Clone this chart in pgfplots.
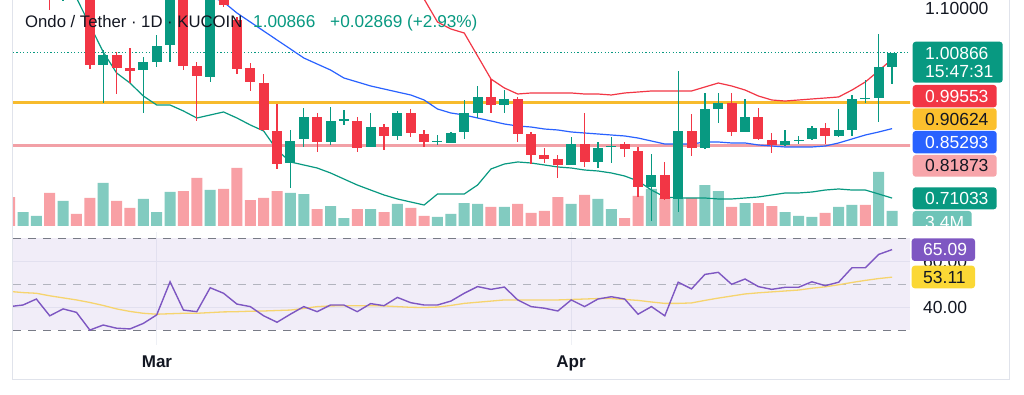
\documentclass[border=0pt]{standalone}
\usepackage{fontspec}
\setmainfont{Liberation Sans}
\usepackage{pgfplots}
\pgfplotsset{compat=1.18}
\usepgfplotslibrary{fillbetween}
\usepackage{pgfplotstable}

\definecolor{upc}{RGB}{8,153,129}
\definecolor{dnc}{RGB}{242,54,69}
\definecolor{volup}{RGB}{130,203,192}
\definecolor{voldn}{RGB}{248,160,165}
\definecolor{bbblue}{RGB}{33,150,243}
\definecolor{bbup}{RGB}{242,54,69}
\definecolor{bbmid}{RGB}{41,98,255}
\definecolor{bblo}{RGB}{8,153,129}
\definecolor{yline}{RGB}{247,187,45}
\definecolor{pline}{RGB}{242,160,166}
\definecolor{plab}{RGB}{247,165,170}
\definecolor{ylab}{RGB}{251,192,45}
\definecolor{rsic}{RGB}{126,87,194}
\definecolor{rsima}{RGB}{246,212,110}
\definecolor{rsimalab}{RGB}{251,216,53}
\definecolor{txt}{RGB}{19,23,34}
\definecolor{gridc}{RGB}{238,240,245}
\definecolor{framec}{RGB}{224,227,235}
\definecolor{dashc}{RGB}{120,123,134}
\definecolor{dashl}{RGB}{178,180,190}
\definecolor{vollab}{RGB}{110,196,184}

% candles: k open high low close
\pgfplotstableread{
k o h l c
0 1.1583 1.2713 1.1377 1.2404
1 1.2199 1.3226 1.1994 1.3021
3 1.1377 1.2404 1.1151 1.1994
6 0.9837 1.0145 0.9056 1.0042
9 0.9734 1.0001 0.8851 0.9899
10 0.9899 1.0453 0.9796 1.0227
11 1.0248 1.2302 0.9899 1.1994
14 0.9590 1.1788 0.9488 1.1583
20 0.7824 0.8502 0.7310 0.8276
21 0.8317 0.8954 0.8153 0.8769
23 0.8255 0.8974 0.8194 0.8687
24 0.8711 0.8913 0.8605 0.8723
26 0.8153 0.8851 0.8153 0.8563
28 0.8379 0.8892 0.8296 0.8851
31 0.8270 0.8399 0.8194 0.8282
32 0.8235 0.8461 0.8235 0.8440
33 0.8461 0.9118 0.8317 0.8851
34 0.8851 0.9406 0.8748 0.9180
36 0.9015 0.9323 0.8851 0.9139
41 0.7783 0.8358 0.7783 0.8214
43 0.7845 0.8255 0.7721 0.8132
44 0.8167 0.8358 0.7824 0.8179
47 0.7331 0.8009 0.6633 0.7578
49 0.7085 0.9714 0.6818 0.8481
51 0.8132 0.9262 0.8111 0.8933
52 0.8933 0.9262 0.8646 0.9056
54 0.8461 0.9139 0.8461 0.8769
57 0.8194 0.8502 0.8173 0.8276
58 0.8290 0.8379 0.8214 0.8302
59 0.8317 0.8584 0.8296 0.8543
61 0.8379 0.8933 0.8358 0.8502
62 0.8502 0.9221 0.8379 0.9139
63 0.9153 0.9529 0.9056 0.9165
64 0.9159 1.0474 0.8666 0.9797
65 0.9800 1.0087 0.9447 1.00866
}\tup

\pgfplotstableread{
k o h l c
2 1.2918 1.3123 1.0967 1.1480
4 1.1788 1.2096 1.1213 1.1275
5 1.1275 1.1686 0.9755 0.9837
7 1.0042 1.0104 0.9241 0.9775
8 0.9775 1.0186 0.9467 0.9714
12 1.1891 1.2096 0.9734 0.9816
13 0.9816 0.9899 0.8687 0.9611
15 1.1686 1.1891 1.1028 1.1069
16 1.0761 1.0823 0.9652 0.9755
17 0.9775 0.9878 0.9303 0.9488
18 0.9467 0.9652 0.8481 0.8502
19 0.8481 0.9036 0.7701 0.7803
22 0.8769 0.8851 0.8050 0.8255
25 0.8687 0.8769 0.8050 0.8132
27 0.8563 0.8625 0.8091 0.8379
29 0.8851 0.8933 0.8358 0.8440
30 0.8420 0.8502 0.8153 0.8255
35 0.9180 0.9549 0.8851 0.9015
37 0.9139 0.9180 0.8255 0.8420
38 0.8420 0.8461 0.7803 0.7988
39 0.7988 0.8132 0.7824 0.7906
40 0.7906 0.7988 0.7516 0.7783
42 0.8214 0.8851 0.7742 0.7845
45 0.8214 0.8255 0.7947 0.8111
46 0.8070 0.8153 0.7126 0.7331
48 0.7578 0.7845 0.7064 0.7085
50 0.8481 0.8830 0.7968 0.8132
53 0.9056 0.9262 0.8379 0.8461
55 0.8769 0.8954 0.8296 0.8317
56 0.8296 0.8440 0.8029 0.8194
60 0.8543 0.8646 0.8214 0.8379
}\tdn

% volume (millions)
\pgfplotstableread{
k v
0 3.17
1 2.27
3 5.67
6 9.75
9 6.12
10 3.17
11 7.71
14 8.16
20 7.48
21 7.25
23 4.53
24 1.81
26 3.85
28 4.99
31 2.04
32 2.72
33 5.21
34 4.99
36 4.31
41 4.99
43 6.12
44 3.85
47 8.39
49 6.12
51 9.29
52 7.93
54 5.21
57 3.17
58 2.27
59 2.04
61 4.31
62 4.76
64 12.24
65 3.40
}\tvup

\pgfplotstableread{
k v
-1 6.57
2 7.48
4 2.72
5 6.35
7 5.67
8 4.08
12 7.93
13 10.88
15 8.39
16 13.15
17 5.89
18 6.35
19 7.93
22 3.85
25 3.85
27 3.17
29 4.08
30 2.27
35 4.31
37 4.99
38 2.95
39 3.40
40 6.57
42 7.03
45 1.81
46 6.80
48 6.35
50 6.35
53 4.31
55 5.21
56 4.53
60 2.95
63 4.76
}\tvdn

% Bollinger bands: upper, basis, lower
\pgfplotstableread{
k u m l
0 1.80 1.56 1.3226
1 1.82 1.55 1.2815
2 1.83 1.53 1.2302
3 1.84 1.51 1.1788
4 1.84 1.48 1.1213
5 1.83 1.45 1.0659
6 1.82 1.42 1.0104
7 1.80 1.38 0.9673
8 1.78 1.34 0.9467
9 1.75 1.30 0.9200
10 1.72 1.26 0.9015
11 1.69 1.22 0.9015
12 1.66 1.19 0.8892
13 1.62 1.155 0.8748
14 1.58 1.125 0.8810
15 1.54 1.1131 0.8872
16 1.50 1.0905 0.8748
17 1.47 1.0720 0.8605
18 1.44 1.0535 0.8481
19 1.41 1.0350 0.8091
20 1.38 1.0166 0.7845
21 1.35 0.9981 0.7783
22 1.33 0.9857 0.7721
23 1.31 0.9734 0.7619
24 1.29 0.9570 0.7495
25 1.27 0.9488 0.7372
26 1.255 0.9406 0.7269
27 1.24 0.9344 0.7167
28 1.21 0.9282 0.7085
29 1.17 0.9221 0.7023
30 1.119 0.9118 0.6961
31 1.0720 0.8933 0.7187
32 1.0576 0.8851 0.7187
33 1.0494 0.8810 0.7187
34 1.0022 0.8748 0.7372
35 0.9549 0.8687 0.7701
36 0.9365 0.8625 0.7803
37 0.9241 0.8584 0.7845
38 0.9262 0.8563 0.7824
39 0.9262 0.8522 0.7783
40 0.9262 0.8502 0.7742
41 0.9262 0.8461 0.7721
42 0.9241 0.8440 0.7680
43 0.9241 0.8420 0.7660
44 0.9221 0.8399 0.7619
45 0.9262 0.8379 0.7557
46 0.9282 0.8337 0.7454
47 0.9303 0.8276 0.7269
48 0.9303 0.8214 0.7126
49 0.9303 0.8214 0.7105
50 0.9303 0.8214 0.7105
51 0.9385 0.8255 0.7105
52 0.9467 0.8255 0.7085
53 0.9406 0.8235 0.7085
54 0.9323 0.8235 0.7105
55 0.9200 0.8194 0.7126
56 0.9118 0.8173 0.7167
57 0.9097 0.8153 0.7208
58 0.9118 0.8153 0.7208
59 0.9139 0.8153 0.7228
60 0.9159 0.8173 0.7269
61 0.9180 0.8235 0.7290
62 0.9323 0.8317 0.7269
63 0.9488 0.8399 0.7269
64 0.9720 0.8461 0.7187
65 0.99553 0.85293 0.71033
}\tbb

% RSI and its moving average
\pgfplotstableread{
k r ma
-1 40.3 46.9
0 41.0 46.4
1 43.6 46.1
2 36.3 45.0
3 39.3 44.1
4 37.8 43.2
5 30.1 42.1
6 32.3 40.8
7 30.9 39.3
8 30.6 38.2
9 33.0 37.4
10 36.7 37.0
11 51.1 37.2
12 38.8 37.4
13 38.1 37.4
14 48.5 37.7
15 46.1 38.0
16 41.4 38.1
17 40.3 38.3
18 36.3 38.4
19 33.5 38.6
20 37.0 38.8
21 40.3 39.5
22 38.1 40.3
23 41.0 40.6
24 41.0 40.7
25 38.1 40.7
26 41.6 40.7
27 40.7 40.6
28 44.3 40.3
29 42.0 40.0
30 41.0 39.9
31 41.0 40.1
32 42.7 40.8
33 46.1 41.7
34 49.0 42.2
35 47.8 42.7
36 48.8 43.2
37 43.2 43.2
38 40.3 43.2
39 39.6 43.2
40 38.4 43.2
41 43.2 43.4
42 40.3 43.6
43 43.6 43.8
44 44.6 43.8
45 43.6 43.4
46 37.0 43.0
47 40.3 42.3
48 36.3 41.7
49 50.9 41.7
50 48.0 41.9
51 54.3 43.0
52 55.2 44.0
53 50.0 44.9
54 52.3 45.8
55 49.0 46.3
56 47.8 46.7
57 48.7 47.1
58 48.7 47.5
59 51.1 48.3
60 49.4 48.9
61 50.9 49.8
62 57.2 50.8
63 57.2 51.7
64 63.0 52.5
65 65.09 53.11
}\trsi

\pgfplotsset{
  pane/.style={scale only axis, width=897pt, xmin=-0.748, xmax=66.34,
    axis line style={draw=none}, major tick length=0pt,
    xticklabels={}, yticklabels={}, anchor=south west,
    clip bounding box=upper bound},
  wick/.style={draw=none, mark=none, forget plot,
    error bars/.cd, y dir=both, y explicit, error mark=none,
    error bar style={draw=#1, line width=1.3pt}},
  body/.style={draw=none, mark=none, forget plot,
    error bars/.cd, y dir=both, y explicit, error mark=none,
    error bar style={draw=#1, line width=10pt}},
}
\newcommand{\lab}{\fontsize{17.5}{20}\selectfont}

\begin{document}
\begin{tikzpicture}
\begin{scope}[x=1pt,y=1pt]
\fill[white] (0,0) rectangle (1024,395);
\draw[framec, line width=0.8pt] (12.7,395) -- (12.7,16) -- (1009.5,16) -- (1009.5,395);
\end{scope}

% price pane: grid and band fill
\begin{axis}[pane, at={(13pt,169pt)}, height=226pt, ymin=0.6530, ymax=1.1172,
  xtick={10,41}, ytick={0.7,0.8,0.9,1.0,1.1}, xmajorgrids, ymajorgrids,
  grid style={draw=gridc, line width=0.8pt}]
\addplot[name path=bu, draw=none, forget plot] table[x=k,y=u]{\tbb};
\addplot[name path=bl, draw=none, forget plot] table[x=k,y=l]{\tbb};
\addplot[fill=bbblue, fill opacity=0.06, draw=none] fill between[of=bu and bl];
\end{axis}

% volume
\begin{axis}[pane, at={(13pt,169pt)}, height=60pt, ymin=0, ymax=13.6, xtick=\empty, ytick=\empty]
\addplot[ybar, bar width=11pt, bar shift=0pt, fill=volup, draw=none] table[x=k,y=v]{\tvup};
\addplot[ybar, bar width=11pt, bar shift=0pt, fill=voldn, draw=none] table[x=k,y=v]{\tvdn};
\end{axis}

% price pane: levels, bands, candles
\begin{axis}[pane, at={(13pt,169pt)}, height=226pt, ymin=0.6530, ymax=1.1172, xtick=\empty, ytick=\empty]
\addplot[yline, line width=2.5pt] coordinates {(-1,0.90624) (67,0.90624)};
\addplot[pline, line width=2.5pt] coordinates {(-1,0.81873) (67,0.81873)};
\addplot[upc, line width=1pt, dash pattern=on 1.2pt off 2.2pt] coordinates {(-1,1.00866) (67,1.00866)};
\addplot[bbup, line width=1.2pt] table[x=k,y=u]{\tbb};
\addplot[bbmid, line width=1.2pt] table[x=k,y=m]{\tbb};
\addplot[bblo, line width=1.2pt] table[x=k,y=l]{\tbb};
\addplot[wick=upc] table[x=k, y expr={(\thisrow{h}+\thisrow{l})/2}, y error expr={(\thisrow{h}-\thisrow{l})/2}]{\tup};
\addplot[wick=dnc] table[x=k, y expr={(\thisrow{h}+\thisrow{l})/2}, y error expr={(\thisrow{h}-\thisrow{l})/2}]{\tdn};
\addplot[body=upc] table[x=k, y expr={(\thisrow{o}+\thisrow{c})/2}, y error expr={abs(\thisrow{c}-\thisrow{o})/2}]{\tup};
\addplot[body=dnc] table[x=k, y expr={(\thisrow{o}+\thisrow{c})/2}, y error expr={abs(\thisrow{c}-\thisrow{o})/2}]{\tdn};
\end{axis}

% RSI pane
\begin{axis}[pane, at={(13pt,50pt)}, height=113pt, ymin=23.61, ymax=72.74,
  xtick={10,41}, ytick={40,60}, xmajorgrids, ymajorgrids,
  grid style={draw=gridc, line width=0.8pt}]
\fill[rsic, fill opacity=0.1] (axis cs:-0.748,30) rectangle (axis cs:66.34,70);
\addplot[dashc, line width=1pt, dash pattern=on 8pt off 7pt] coordinates {(-0.748,70) (66.34,70)};
\addplot[dashl, line width=1pt, dash pattern=on 8pt off 7pt] coordinates {(-0.748,50) (66.34,50)};
\addplot[dashc, line width=1pt, dash pattern=on 8pt off 7pt] coordinates {(-0.748,30) (66.34,30)};
\addplot[rsima, line width=1.3pt] table[x=k,y=ma]{\trsi};
\addplot[rsic, line width=1.4pt] table[x=k,y=r]{\trsi};
\end{axis}

\begin{scope}[x=1pt,y=1pt]
% header
\node[anchor=base west, inner sep=0, text=txt, font=\fontsize{16.7}{20}\selectfont] at (25,367.3) {Ondo / Tether · 1D · KUCOIN};
\node[anchor=base west, inner sep=0, text=upc, font=\fontsize{17.2}{20}\selectfont] at (253,367.1) {1.00866};
\node[anchor=base west, inner sep=0, text=upc, font=\fontsize{17.2}{20}\selectfont] at (330,367.1) {+0.02869 (+2.93\%)};

% price scale
\node[anchor=base west, inner sep=0, text=txt, font=\lab] at (925,380.3) {1.10000};
\fill[upc, rounded corners=3pt] (912.7,353.3) rectangle (1002.7,312.3);
\node[anchor=base west, inner sep=0, text=white, font=\lab] at (925,335.4) {1.00866};
\node[anchor=base west, inner sep=0, text=white, font=\lab] at (925,317.0) {15:47:31};
\fill[dnc, rounded corners=3pt] (912.7,310) rectangle (996.7,287.7);
\node[anchor=base west, inner sep=0, text=white, font=\lab] at (925,292.7) {0.99553};
\fill[ylab, rounded corners=3pt] (912.7,286.7) rectangle (996.7,265);
\node[anchor=base west, inner sep=0, text=txt, font=\lab] at (925,269.7) {0.90624};
\fill[bbmid, rounded corners=3pt] (912.7,264) rectangle (996.7,241.7);
\node[anchor=base west, inner sep=0, text=white, font=\lab] at (925,246.7) {0.85293};
\fill[plab, rounded corners=3pt] (912.7,240) rectangle (996.7,218.3);
\node[anchor=base west, inner sep=0, text=txt, font=\lab] at (925,223.0) {0.81873};
\fill[upc, rounded corners=3pt] (912.7,207.7) rectangle (996.7,185.7);
\node[anchor=base west, inner sep=0, text=white, font=\lab] at (925,190.7) {0.71033};
\begin{scope}
\clip (900,169) rectangle (1005,190);
\fill[vollab, rounded corners=3pt] (912.7,184) rectangle (971.7,160);
\node[anchor=base west, inner sep=0, text=white, font=\lab] at (925,166.7) {3.4M};
\end{scope}

% RSI scale
\node[anchor=base west, inner sep=0, text=txt, font=\lab] at (923,127.4) {60.00};
\fill[rsic, rounded corners=3pt] (911.7,156.7) rectangle (975,134);
\node[anchor=base west, inner sep=0, text=white, font=\lab] at (923,139.0) {65.09};
\fill[rsimalab, rounded corners=3pt] (911.7,129.3) rectangle (975,106.7);
\node[anchor=base west, inner sep=0, text=txt, font=\lab] at (923,111.7) {53.11};
\node[anchor=base west, inner sep=0, text=txt, font=\lab] at (923,81.4) {40.00};

% time axis
\node[anchor=base, inner sep=0, text=txt, font=\fontsize{17}{20}\selectfont\bfseries] at (157,27.2) {Mar};
\node[anchor=base, inner sep=0, text=txt, font=\fontsize{17}{20}\selectfont\bfseries] at (571,27.2) {Apr};
\end{scope}
\pgfresetboundingbox
\path[use as bounding box] (0pt,0pt) rectangle (1024pt,395pt);
\end{tikzpicture}
\end{document}
